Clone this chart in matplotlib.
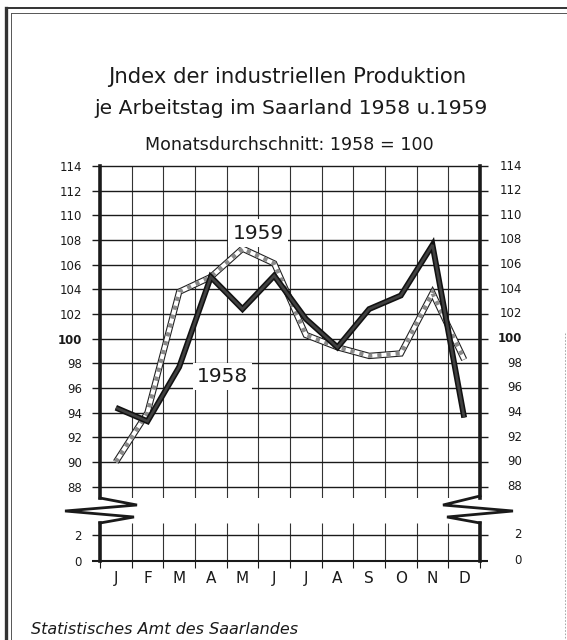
import matplotlib
matplotlib.use('Agg')
import matplotlib.pyplot as plt
from matplotlib.lines import Line2D
import numpy as np

# ---------------- data ----------------
months = ['J', 'F', 'M', 'A', 'M', 'J', 'J', 'A', 'S', 'O', 'N', 'D']
prod_1958 = [94.4, 93.3, 97.7, 105.0, 102.4, 105.1, 101.6, 99.3, 102.4, 103.5, 107.6, 93.6]
prod_1959 = [90.0, 94.0, 103.8, 105.0, 107.3, 106.1, 100.3, 99.3, 98.6, 98.8, 103.7, 98.3]
upper_ticks = list(range(88, 115, 2))
lower_ticks = [0, 2]

title_1 = 'Jndex der industriellen Produktion'
title_2 = 'je Arbeitstag im Saarland 1958 u.1959'
subtitle = 'Monatsdurchschnitt: 1958 = 100'
source = 'Statistisches Amt des Saarlandes'

# ---------------- layout ----------------
W, H = 567, 640
fig = plt.figure(figsize=(W / 100, H / 100), dpi=100)
fig.patch.set_facecolor('white')
plt.rcParams['font.family'] = ['DejaVu Sans']

def fx(px):
    return px / W

def fy(py):
    return 1 - py / H

L, R = 100, 480
top_top, top_bot = 166, 498
bot_top, bot_bot = 523, 561

ax = fig.add_axes([fx(L), fy(top_bot), (R - L) / W, (top_bot - top_top) / H])
axb = fig.add_axes([fx(L), fy(bot_bot), (R - L) / W, (bot_bot - bot_top) / H])

xs = np.arange(len(months))
bounds = np.arange(-0.5, len(months), 1.0)
ink = '#1a1a1a'

for a in (ax, axb):
    a.set_xlim(-0.5, len(months) - 0.5)
    for s in ('top', 'bottom'):
        a.spines[s].set_visible(False)
    for s in ('left', 'right'):
        a.spines[s].set_linewidth(2.6)
        a.spines[s].set_color(ink)
    a.set_facecolor('white')

ax.set_ylim(87.08, 114)
axb.set_ylim(0, 2.92)

# grid
ax.vlines(bounds[1:-1], 87.08, 114, color='#333333', lw=0.8, zorder=1)
ax.hlines(upper_ticks, -0.75, len(months) - 0.25, color=ink, lw=1.0,
          clip_on=False, zorder=1)
axb.vlines(bounds[1:-1], 0, 2.92, color='#333333', lw=0.8, zorder=1)
axb.hlines([2], -0.75, len(months) - 0.25, color=ink, lw=1.0, clip_on=False, zorder=1)
axb.hlines([0], -0.75, len(months) - 0.25, color=ink, lw=1.5, clip_on=False, zorder=2)

# ticks upper
ax.set_xticks([])
ax.set_yticks(upper_ticks)
ax.set_yticklabels([str(v) for v in upper_ticks])
ax.tick_params(axis='y', length=0, pad=13, labelsize=8.5, colors=ink)
for lbl in ax.get_yticklabels():
    if lbl.get_text() == '100':
        lbl.set_fontweight('bold')
for v in upper_ticks:
    ax.text(1.11, v, str(v), transform=ax.get_yaxis_transform(), ha='right',
            va='center', fontsize=8.5, color=ink,
            fontweight='bold' if v == 100 else 'normal')

# ticks lower
axb.set_yticks(lower_ticks)
axb.set_yticklabels([str(v) for v in lower_ticks])
axb.tick_params(axis='y', length=0, pad=13, labelsize=8.5, colors=ink)
for v in lower_ticks:
    axb.text(1.11, v, str(v), transform=axb.get_yaxis_transform(), ha='right',
             va='center', fontsize=8.5, color=ink)
axb.set_xticks(bounds)
axb.set_xticklabels([])
axb.set_xticks(xs, minor=True)
axb.set_xticklabels(months, minor=True)
axb.tick_params(axis='x', which='major', direction='out', length=5, width=0.8, colors=ink)
axb.tick_params(axis='x', which='minor', length=0, pad=7, labelsize=11, colors=ink)

# ---------------- series ----------------
common = dict(solid_capstyle='butt', solid_joinstyle='miter',
              dash_capstyle='butt', dash_joinstyle='miter')
ax.plot(xs, prod_1959, color='#222222', lw=4.6, zorder=3, **common)
ax.plot(xs, prod_1959, color='white', lw=3.0, zorder=3, **common)
ax.plot(xs, prod_1959, color='#8a8a8a', lw=3.0, ls=(0, (1, 1.2)), zorder=3, **common)

ax.plot(xs, prod_1958, color='#111111', lw=4.2, zorder=4, **common)
ax.plot(xs, prod_1958, color='#404040', lw=1.9, zorder=4, **common)

ax.text(4.49, 108.55, '1959', ha='center', va='center', fontsize=14.5, color=ink,
        zorder=5, bbox=dict(facecolor='white', edgecolor='none', pad=3))
ax.text(3.37, 96.93, '1958', ha='center', va='center', fontsize=14.5, color=ink,
        zorder=5, bbox=dict(facecolor='white', edgecolor='none', pad=3))

# ---------------- axis-break zigzags ----------------
def fig_line(pts, **kw):
    xs_ = [fx(p[0]) for p in pts]
    ys_ = [fy(p[1]) for p in pts]
    fig.add_artist(Line2D(xs_, ys_, transform=fig.transFigure, **kw))

fig_line([(100, 498), (137, 505), (65, 511), (134, 517), (100, 523)],
         color=ink, lw=2.0, solid_joinstyle='miter')
fig_line([(480, 496), (443, 505), (513, 511), (447, 517), (480, 523)],
         color=ink, lw=2.0, solid_joinstyle='miter')

# ---------------- frame ----------------
fig_line([(6, 8), (6, 640)], color='#333333', lw=2.4)
fig_line([(11, 13), (11, 640)], color='#555555', lw=0.7)
fig_line([(6, 8), (567, 8)], color='#333333', lw=1.4)
fig_line([(11, 13), (567, 13)], color='#555555', lw=0.7)
fig_line([(565, 333), (565, 640)], color='#999999', lw=0.6, ls=(0, (2, 2)))

# ---------------- texts ----------------
fig.text(fx(287), fy(77), title_1, ha='center', va='center', fontsize=15.3, color=ink)
fig.text(fx(291), fy(108), title_2, ha='center', va='center', fontsize=14.6, color=ink)
fig.text(fx(289), fy(145), subtitle, ha='center', va='center', fontsize=12.6, color=ink)
fig.text(fx(31), fy(629), source, ha='left', va='center', fontsize=11.5,
         style='italic', color=ink)

fig.savefig('out.png', dpi=100, facecolor='white')
